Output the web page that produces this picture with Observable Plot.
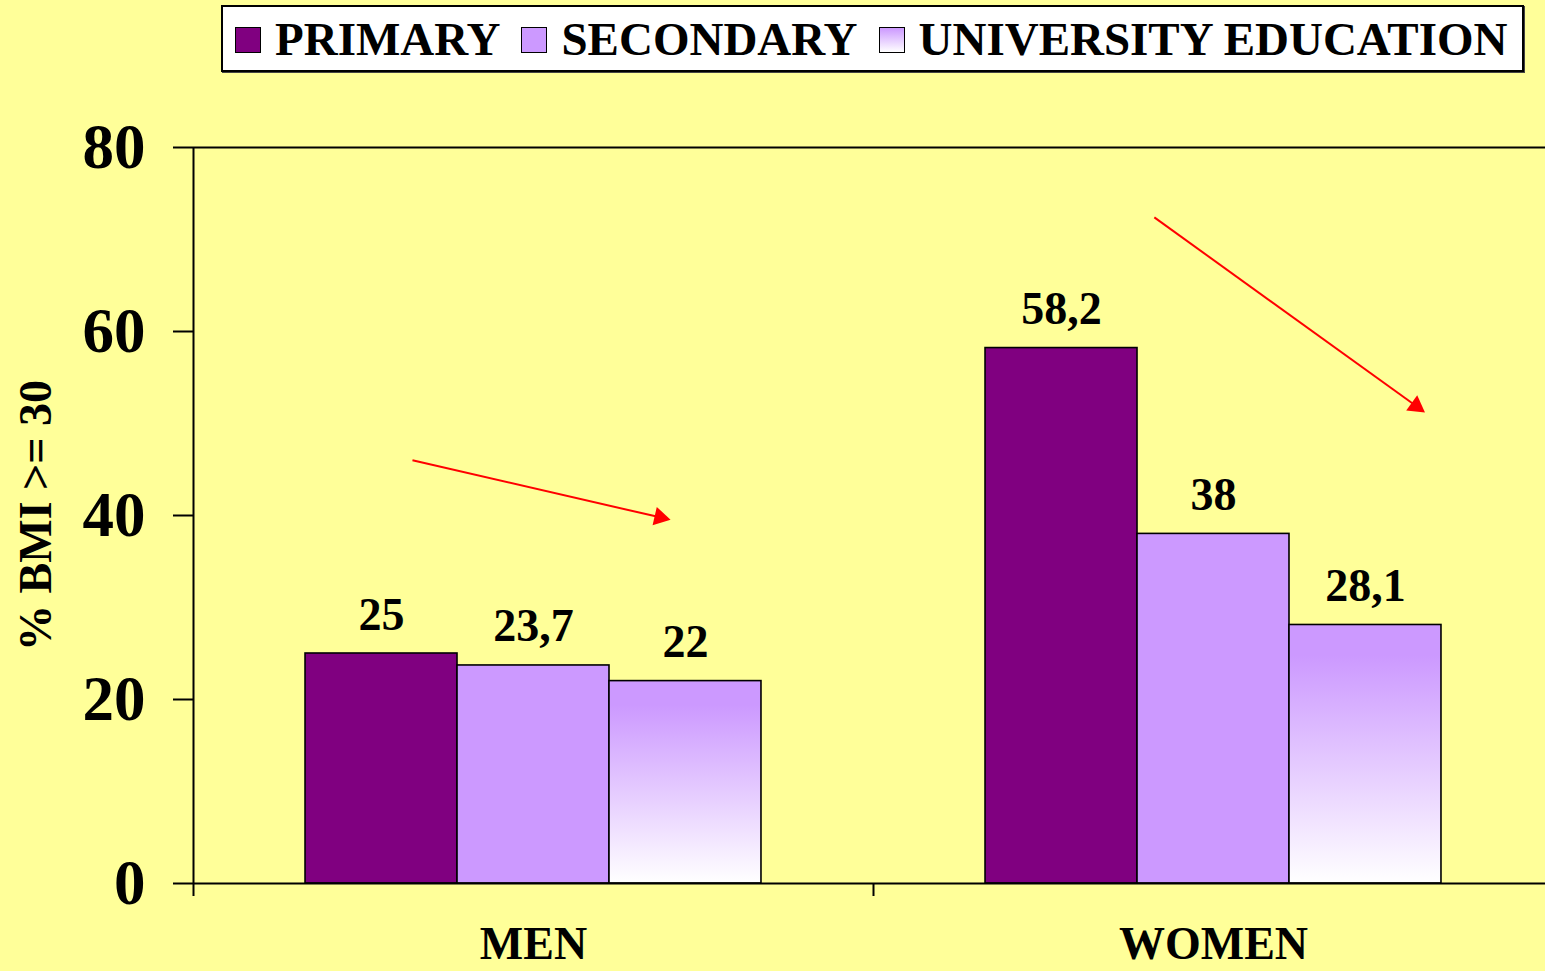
<!DOCTYPE html>
<html>
<head>
<meta charset="utf-8">
<script src="https://cdn.jsdelivr.net/npm/d3@7"></script>
<script src="https://cdn.jsdelivr.net/npm/@observablehq/plot@0.6"></script>
<style>
  html, body { margin: 0; padding: 0; background: #FFFF99; overflow: hidden; }
  #wrap { position: relative; width: 1545px; height: 971px; }
  #legend {
    position: absolute; left: 221px; top: 5px; width: 1303px; height: 67px;
    box-sizing: border-box; background: #fff; border: 2px solid #000;
    box-shadow: 1px 1px 0 #444;
    display: flex; align-items: center; padding-left: 12px; padding-top: 2px;
    font-family: "Liberation Serif", "Times New Roman", serif; font-weight: bold;
    font-size: 47px; line-height: 1; color: #000; white-space: nowrap;
  }
  .item { display: flex; align-items: center; margin-right: 21px; }
  .sw { width: 26px; height: 26px; border: 1.5px solid #000; box-sizing: border-box; margin-right: 14px; }
  #chart { position: absolute; left: 0; top: 0; }
</style>
</head>
<body>
<div id="wrap">
  <div id="chart"></div>
  <div id="legend"></div>
</div>
<script>
// ---- data ----
const groups = ["MEN", "WOMEN"];
const levels = ["PRIMARY", "SECONDARY", "UNIVERSITY EDUCATION"];
const menValues = [25, 23.7, 22];
const womenValues = [58.2, 38, 28.1];
const yTicks = [0, 20, 40, 60, 80];
const yLabel = "% BMI >= 30";
// trend arrows (x in group units, y in %)
const arrowX1 = [-0.178, 0.913];
const arrowY1 = [46, 72.4];
const arrowX2 = [0.186, 1.298];
const arrowY2 = [39.8, 51.9];

// ---- layout / style ----
const font = '"Liberation Serif", "Times New Roman", serif';
const colors = ["#800080", "#CC99FF", "url(#uniGrad)"];
const swatchBg = ["#800080", "#CC99FF", "linear-gradient(#CC99FF, #ffffff)"];
const W = 1545, H = 971;
const mL = 193, mT = 147, mB = 88;
const xDomain = [-0.5, 1.5], xRange = [193, 1553];
const barW = 0.2235;

// legend
const leg = document.getElementById("legend");
levels.forEach((l, i) => {
  const it = document.createElement("div");
  it.className = "item";
  const sw = document.createElement("div");
  sw.className = "sw";
  sw.style.background = swatchBg[i];
  const tx = document.createElement("span");
  tx.textContent = l;
  it.appendChild(sw); it.appendChild(tx);
  leg.appendChild(it);
});

// rows
const rows = [];
groups.forEach((g, gi) => {
  const vals = gi === 0 ? menValues : womenValues;
  levels.forEach((l, li) => {
    const x1 = gi - 1.5 * barW + li * barW;
    rows.push({group: g, level: l, value: vals[li], x1, x2: x1 + barW,
      label: String(vals[li]).replace(".", ",")});
  });
});

// arrow head rotation from scale ratios
const kx = (xRange[1] - xRange[0]) / (xDomain[1] - xDomain[0]);
const ky = (H - mB - mT) / (yTicks[yTicks.length - 1] - yTicks[0]);
const arrowIdx = arrowX1.map((_, i) => i);
const arrowRot = arrowIdx.map(i => 90 + Math.atan2((arrowY1[i] - arrowY2[i]) * ky, (arrowX2[i] - arrowX1[i]) * kx) * 180 / Math.PI);

const defs = () => {
  const g = d3.create("svg:defs");
  const lg = g.append("linearGradient").attr("id", "uniGrad")
    .attr("x1", 0).attr("y1", 0).attr("x2", 0).attr("y2", 1);
  lg.append("stop").attr("offset", "0%").attr("stop-color", "#CC99FF");
  lg.append("stop").attr("offset", "12%").attr("stop-color", "#CC99FF");
  lg.append("stop").attr("offset", "100%").attr("stop-color", "#FFFFFF");
  return g.node();
};

const plot = Plot.plot({
  width: W, height: H,
  marginLeft: mL, marginRight: 0, marginTop: mT, marginBottom: mB,
  style: {background: "transparent", color: "#000", fontFamily: font, overflow: "visible"},
  x: {domain: xDomain, range: xRange},
  y: {domain: [0, 80]},
  color: {type: "ordinal", domain: levels, range: colors},
  marks: [
    defs,
    Plot.rectY(rows, {x1: "x1", x2: "x2", y1: 0, y2: "value", fill: "level", stroke: "#000", strokeWidth: 1.6}),
    Plot.ruleY([0, 80], {stroke: "#000", strokeWidth: 2}),
    Plot.ruleX([xDomain[0]], {y1: 0, y2: 80, stroke: "#000", strokeWidth: 2}),
    Plot.axisY({ticks: yTicks, tickSize: 20, tickPadding: 28, strokeWidth: 2,
      fontSize: 63, fontWeight: "bold", fontFamily: font, label: null}),
    Plot.axisX({ticks: [-0.5, 0.5, 1.5], tickSize: 13, strokeWidth: 2, tickFormat: () => "", label: null}),
    Plot.axisX({ticks: [0, 1], tickSize: 0, tickPadding: 43, tickFormat: i => groups[i],
      fontSize: 46, fontWeight: "bold", fontFamily: font, label: null}),
    Plot.text(rows, {x: d => (d.x1 + d.x2) / 2, y: "value", text: "label", lineAnchor: "bottom", dy: -24,
      fontSize: 46, fontWeight: "bold", fontFamily: font, fill: "#000"}),
    Plot.text([yLabel], {frameAnchor: "left", textAnchor: "middle", dx: -157, rotate: -90, text: d => d,
      fontSize: 46, fontWeight: "bold", fontFamily: font, fill: "#000"}),
    Plot.link(arrowIdx, {x1: i => arrowX1[i], y1: i => arrowY1[i], x2: i => arrowX2[i], y2: i => arrowY2[i],
      stroke: "#FF0000", strokeWidth: 2}),
    Plot.dot(arrowIdx, {x: i => arrowX2[i], y: i => arrowY2[i], symbol: "triangle", r: 7,
      fill: "#FF0000", stroke: "none", rotate: i => arrowRot[i]})
  ]
});
document.getElementById("chart").appendChild(plot);
</script>
</body>
</html>
